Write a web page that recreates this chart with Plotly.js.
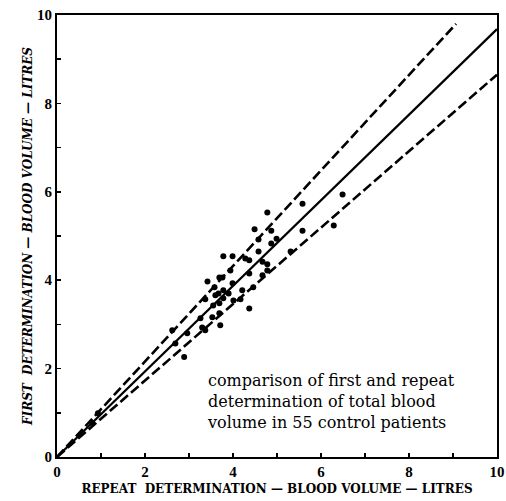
<!DOCTYPE html>
<html><head><meta charset="utf-8">
<script src="https://cdn.plot.ly/plotly-3.0.1.min.js"></script>
<style>html,body{margin:0;padding:0;background:#fff}#c{width:506px;height:501px}</style>
</head><body><div id="c"></div>
<script>
// Scatter data: repeat determination (x) vs first determination (y), litres
var repeatVol = [6.49,5.58,6.29,4.78,4.49,4.87,5.58,4.99,4.58,4.87,5.31,3.78,3.99,4.28,4.37,4.58,4.67,4.78,3.94,4.37,4.78,4.67,3.42,3.69,3.76,3.58,3.78,3.67,3.90,4.21,4.46,3.37,3.60,3.78,4.01,4.17,4.37,3.69,3.55,3.53,3.69,3.71,3.30,3.37,2.96,2.62,2.69,2.89,0.80,0.93,3.26,3.99];
var firstVol  = [5.94,5.73,5.24,5.53,5.15,5.12,5.12,4.94,4.92,4.83,4.65,4.54,4.54,4.49,4.45,4.65,4.42,4.36,4.22,4.15,4.22,4.11,3.97,4.06,4.06,3.84,3.77,3.70,3.70,3.77,3.84,3.57,3.66,3.59,3.54,3.57,3.36,3.48,3.43,3.16,3.25,2.98,2.93,2.87,2.80,2.87,2.57,2.26,0.77,0.99,3.14,3.93];
// Regression line and limits
var solidX = [0, 10];
var solidY = [0, 9.68];
var upperX = [0, 9.07];
var upperY = [0, 9.8];
var lowerX = [0, 10];
var lowerY = [0, 8.65];
var xTickVals = [0,2,4,6,8,10];
var yTickVals = [0,2,4,6,8,10];
var xTitle = "REPEAT  DETERMINATION \u2014 BLOOD VOLUME \u2014 LITRES";
var yTitle = "FIRST  DETERMINATION \u2014 BLOOD VOLUME \u2014 LITRES";
var noteLines = ["comparison of first and repeat","determination of total blood","volume in 55 control patients"];

var serif = "DejaVu Serif, Liberation Serif, serif";
var tickSerif = "Liberation Serif, serif";
function boldLabels(v){ return v.map(function(t){ return '<b>' + t + '</b>'; }); }
var traces = [
  {x: solidX, y: solidY, mode:'lines', line:{color:'#000', width:2.2}, hoverinfo:'skip'},
  {x: upperX, y: upperY, mode:'lines', line:{color:'#000', width:2.6, dash:'10px,4px'}, hoverinfo:'skip'},
  {x: lowerX, y: lowerY, mode:'lines', line:{color:'#000', width:2.6, dash:'10px,4px'}, hoverinfo:'skip'},
  {x: repeatVol, y: firstVol, mode:'markers', marker:{color:'#000', size:6}}
];
var layout = {
  width:506, height:501,
  margin:{l:57, r:9, t:15, b:44},
  showlegend:false,
  paper_bgcolor:'#fff', plot_bgcolor:'#fff',
  xaxis:{range:[0,10], tickvals:xTickVals, ticktext:boldLabels(xTickVals), ticks:'inside', ticklen:4, tickwidth:1.5, tickcolor:'#000',
    minor:{dtick:1, ticks:'inside', ticklen:4, tickwidth:1.5, tickcolor:'#000'},
    showline:true, linewidth:2, linecolor:'#000', mirror:true, showgrid:false, zeroline:false,
    tickfont:{family:tickSerif, size:15, color:'#000'},
    title:{text:xTitle, font:{family:serif, size:12, weight:'bold', color:'#000'}, standoff:6}},
  yaxis:{range:[0,10], tickvals:yTickVals, ticktext:boldLabels(yTickVals), ticks:'inside', ticklen:4, tickwidth:1.5, tickcolor:'#000',
    minor:{dtick:1, ticks:'inside', ticklen:4, tickwidth:1.5, tickcolor:'#000'},
    showline:true, linewidth:2, linecolor:'#000', mirror:true, showgrid:false, zeroline:false,
    tickfont:{family:tickSerif, size:15, color:'#000'},
    title:{text:yTitle, font:{family:serif, size:12, weight:'bold', style:'italic', color:'#000'}, standoff:2}},
  annotations:[{x:3.37, y:1.98, xref:'x', yref:'y', xanchor:'left', yanchor:'top', align:'left',
    showarrow:false, text:noteLines.join('<br>'), font:{family:serif, size:16, color:'#000'}}]
};
Plotly.newPlot('c', traces, layout, {displayModeBar:false, staticPlot:true});
</script></body></html>
